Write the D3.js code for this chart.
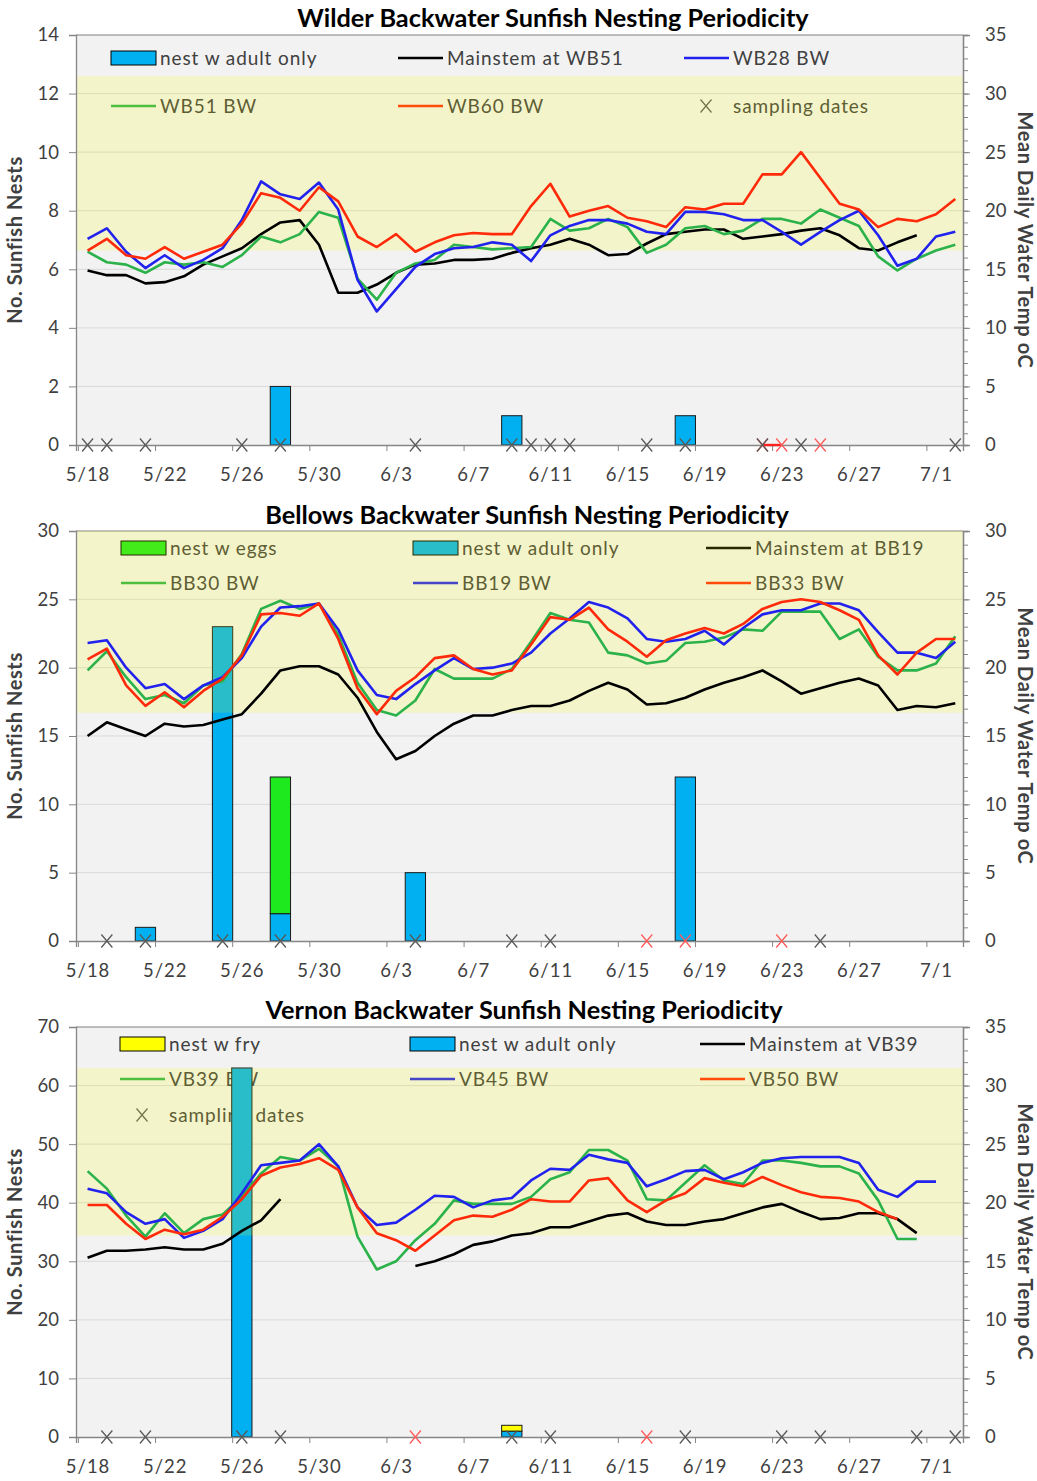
<!DOCTYPE html>
<html>
<head>
<meta charset="utf-8">
<script src="https://cdn.jsdelivr.net/npm/d3@7"></script>
<style>
  body { margin: 0; background: #fff; }
  text { font-family: Lato, "Open Sans", sans-serif; }
</style>
</head>
<body>
<script>
// categories: one per day, 5/18 .. 7/2
const dates = ["5/18","5/19","5/20","5/21","5/22","5/23","5/24","5/25","5/26","5/27","5/28","5/29","5/30","5/31",
  "6/1","6/2","6/3","6/4","6/5","6/6","6/7","6/8","6/9","6/10","6/11","6/12","6/13","6/14","6/15","6/16","6/17",
  "6/18","6/19","6/20","6/21","6/22","6/23","6/24","6/25","6/26","6/27","6/28","6/29","6/30","7/1","7/2"];
const tickLabels = ["5/18","5/22","5/26","5/30","6/3","6/7","6/11","6/15","6/19","6/23","6/27","7/1"];

// ---- Wilder (temps in oC) ----
const wilderMainstem = [14.9,14.5,14.5,13.8,13.9,14.4,15.4,16.1,16.8,18.0,19.0,19.2,17.1,13.0,13.0,13.7,14.7,15.4,15.5,15.8,15.8,15.9,16.4,16.8,17.1,17.6,17.1,16.2,16.3,17.2,18.0,18.2,18.4,18.4,17.6,17.8,18.0,18.3,18.5,17.9,16.8,16.6,17.3,17.9,null,null];
const wilderWB28 = [17.6,18.5,16.5,15.1,16.2,15.1,15.8,16.8,19.2,22.5,21.4,21.0,22.4,20.1,14.1,11.4,13.3,15.2,16.3,16.8,16.9,17.3,17.1,15.7,17.9,18.7,19.2,19.2,18.9,18.2,18.0,19.9,19.9,19.7,19.2,19.2,18.2,17.1,18.2,19.2,20.0,17.9,15.3,15.9,17.8,18.2];
const wilderWB51 = [16.5,15.6,15.4,14.7,15.6,15.4,15.6,15.2,16.2,17.8,17.3,18.0,19.9,19.4,14.2,12.4,14.7,15.5,15.8,17.1,16.9,16.7,16.8,16.9,19.3,18.3,18.5,19.3,18.6,16.4,17.1,18.5,18.7,18.0,18.3,19.3,19.3,18.9,20.1,19.4,18.7,16.1,14.9,15.9,16.6,17.1];
const wilderWB60 = [16.6,17.6,16.2,15.9,16.9,15.9,16.5,17.1,18.9,21.5,21.1,20.0,22.0,20.8,17.8,16.9,18.0,16.5,17.3,17.9,18.1,18.0,18.0,20.4,22.3,19.5,20.0,20.4,19.4,19.1,18.6,20.3,20.1,20.6,20.6,23.1,23.1,25.0,22.8,20.6,20.1,18.6,19.3,19.1,19.7,21.0];
const wilderAdult = [["5/28",2],["6/9",1],["6/18",1]];
const wilderSampling = ["5/18","5/19","5/21","5/26","5/28","6/4","6/9","6/10","6/11","6/12","6/16","6/18","6/22","6/24","7/2"];
const wilderSamplingRed = ["6/22","6/23","6/25"];
const wilderBand = [16.6, 31.5];

// ---- Bellows ----
const bellowsMainstem = [15.0,16.0,15.5,15.0,15.9,15.7,15.8,16.2,16.6,18.1,19.8,20.1,20.1,19.5,17.8,15.3,13.3,13.9,15.0,15.9,16.5,16.5,16.9,17.2,17.2,17.6,18.3,18.9,18.4,17.3,17.4,17.8,18.4,18.9,19.3,19.8,19.0,18.1,18.5,18.9,19.2,18.7,16.9,17.2,17.1,17.4];
const bellowsBB30 = [19.8,21.2,19.3,17.7,18.0,17.4,18.7,19.0,21.0,24.3,24.9,24.3,24.7,22.4,18.9,16.9,16.5,17.6,19.9,19.2,19.2,19.2,19.9,21.9,24.0,23.5,23.3,21.1,20.9,20.3,20.5,21.8,21.9,22.2,22.8,22.7,24.1,24.1,24.1,22.1,22.8,20.8,19.8,19.8,20.3,22.3];
const bellowsBB19 = [21.8,22.0,20.0,18.5,18.8,17.7,18.7,19.3,20.7,23.0,24.4,24.5,24.7,22.8,19.8,18.0,17.7,18.8,19.8,20.7,19.9,20.0,20.3,21.1,22.5,23.6,24.8,24.4,23.6,22.1,21.9,22.1,22.7,21.7,22.9,23.9,24.2,24.2,24.7,24.7,24.2,22.6,21.1,21.1,20.7,21.9];
const bellowsBB33 = [20.6,21.4,18.7,17.2,18.2,17.1,18.3,19.2,20.9,23.9,24.0,23.8,24.7,22.1,18.5,16.6,18.3,19.3,20.7,20.9,19.9,19.5,19.8,21.7,23.7,23.5,24.4,22.8,21.9,20.8,22.0,22.5,22.9,22.5,23.2,24.3,24.8,25.0,24.8,24.2,23.5,20.9,19.5,21.1,22.1,22.1];
const bellowsAdult = [["5/21",1],["5/25",23],["5/28",2],["6/4",5],["6/18",12]];
const bellowsEggs = [["5/28",10]];
const bellowsSampling = ["5/19","5/21","5/25","5/28","6/4","6/9","6/11","6/25"];
const bellowsSamplingRed = ["6/16","6/18","6/23"];
const bellowsBand = [16.7, 31];

// ---- Vernon ----
const vernonMainstem = [15.3,15.9,15.9,16.0,16.2,16.0,16.0,16.5,17.6,18.5,20.3,null,null,null,null,null,null,14.6,15.0,15.6,16.4,16.7,17.2,17.4,17.9,17.9,18.4,18.9,19.1,18.4,18.1,18.1,18.4,18.6,19.1,19.6,19.9,19.2,18.6,18.7,19.1,19.1,18.6,17.4,null,null];
const vernonVB39 = [22.7,21.2,18.9,17.1,19.1,17.4,18.6,19.0,20.5,22.5,23.9,23.6,24.6,23.1,17.1,14.3,15.0,16.8,18.2,20.2,19.9,19.9,19.9,20.5,22.0,22.6,24.5,24.5,23.6,20.3,20.2,21.7,23.2,21.9,21.6,23.6,23.6,23.4,23.1,23.1,22.5,20.2,16.9,16.9,null,null];
const vernonVB45 = [21.2,20.8,19.2,18.2,18.6,17.0,17.6,18.6,20.8,23.2,23.4,23.6,25.0,23.1,19.6,18.1,18.3,19.4,20.6,20.5,19.6,20.2,20.4,21.9,22.9,22.8,24.1,23.7,23.4,21.4,22.0,22.7,22.8,22.0,22.6,23.4,23.8,23.9,23.9,23.9,23.4,21.1,20.5,21.8,21.8,null];
const vernonVB50 = [19.8,19.8,18.2,16.9,17.7,17.3,17.7,18.8,20.3,22.3,23.0,23.3,23.8,22.8,19.6,17.4,16.8,15.9,17.2,18.5,18.9,18.8,19.4,20.3,20.1,20.1,21.9,22.1,20.2,19.2,20.2,20.8,22.1,21.7,21.4,22.2,21.5,20.9,20.5,20.4,20.1,19.2,18.6,null,null,null];
const vernonAdult = [["5/26",63],["6/9",1]];
const vernonFry = [["6/9",1]];
const vernonSampling = ["5/19","5/21","5/26","5/28","6/9","6/11","6/18","6/23","6/25","6/30","7/2"];
const vernonSamplingRed = ["6/4","6/16"];
const vernonBand = [17.2, 31.5];

const W = 1037, H = 1481;
const BLUE_BAR = "#00b0f0", EGG = "#1ee81e", FRY = "#ffff00";
const C_BLACK = "#000000", C_BLUE = "#2222ee", C_GREEN = "#2bb24a", C_RED = "#ff2a0a";

const svg = d3.select("body").append("svg").attr("width", W).attr("height", H);

const x = d3.scaleLinear().domain([-0.6, 45.4]).range([76, 963]);
const dayW = x(1) - x(0);
const idx = d => dates.indexOf(d);

const panels = [
  {
    title: "Wilder Backwater Sunfish Nesting Periodicity", titleX: 553, titleY: 18,
    top: 35, bottom: 445, leftMax: 14, leftStep: 2, rightMax: 35, rightStep: 5,
    band: wilderBand,
    bars: [{ data: wilderAdult, color: BLUE_BAR }],
    lines: [[wilderMainstem, C_BLACK], [wilderWB51, C_GREEN], [wilderWB28, C_BLUE], [wilderWB60, C_RED]],
    sampling: wilderSampling, samplingRed: wilderSamplingRed,
    legendCols: [111, 398, 684], legendRows: [58, 106],
    legend: [
      { t: "bar", c: BLUE_BAR, l: "nest w adult only" }, { t: "line", c: C_BLACK, l: "Mainstem at WB51" }, { t: "line", c: C_BLUE, l: "WB28 BW" },
      { t: "line", c: C_GREEN, l: "WB51 BW" }, { t: "line", c: C_RED, l: "WB60 BW" }, { t: "x", l: "sampling dates" }
    ]
  },
  {
    title: "Bellows Backwater Sunfish Nesting Periodicity", titleX: 527, titleY: 515,
    top: 531, bottom: 941, leftMax: 30, leftStep: 5, rightMax: 30, rightStep: 5,
    band: bellowsBand,
    bars: [{ data: bellowsAdult, color: BLUE_BAR }, { data: bellowsEggs, color: EGG }],
    lines: [[bellowsMainstem, C_BLACK], [bellowsBB30, C_GREEN], [bellowsBB19, C_BLUE], [bellowsBB33, C_RED]],
    sampling: bellowsSampling, samplingRed: bellowsSamplingRed,
    legendCols: [121, 413, 706], legendRows: [548, 583],
    legend: [
      { t: "bar", c: EGG, l: "nest w eggs" }, { t: "bar", c: BLUE_BAR, l: "nest w adult only" }, { t: "line", c: C_BLACK, l: "Mainstem at BB19" },
      { t: "line", c: C_GREEN, l: "BB30 BW" }, { t: "line", c: C_BLUE, l: "BB19 BW" }, { t: "line", c: C_RED, l: "BB33 BW" }
    ]
  },
  {
    title: "Vernon Backwater Sunfish Nesting Periodicity", titleX: 524, titleY: 1010,
    top: 1027, bottom: 1437, leftMax: 70, leftStep: 10, rightMax: 35, rightStep: 5,
    band: vernonBand,
    bars: [{ data: vernonAdult, color: BLUE_BAR }, { data: vernonFry, color: FRY }],
    lines: [[vernonMainstem, C_BLACK], [vernonVB39, C_GREEN], [vernonVB45, C_BLUE], [vernonVB50, C_RED]],
    sampling: vernonSampling, samplingRed: vernonSamplingRed,
    legendCols: [120, 410, 700], legendRows: [1044, 1079, 1115],
    legend: [
      { t: "bar", c: FRY, l: "nest w fry" }, { t: "bar", c: BLUE_BAR, l: "nest w adult only" }, { t: "line", c: C_BLACK, l: "Mainstem at VB39" },
      { t: "line", c: C_GREEN, l: "VB39 BW" }, { t: "line", c: C_BLUE, l: "VB45 BW" }, { t: "line", c: C_RED, l: "VB50 BW" },
      { t: "x", l: "sampling dates" }
    ]
  }
];

const xPath = "M-5.5,-6.5L5.5,6.5M-5.5,6.5L5.5,-6.5";

panels.forEach(p => {
  const g = svg.append("g");
  const yL = d3.scaleLinear().domain([0, p.leftMax]).range([p.bottom, p.top]);
  const yR = d3.scaleLinear().domain([0, p.rightMax]).range([p.bottom, p.top]);
  const x0 = x.range()[0], x1 = x.range()[1];

  // plot background
  g.append("rect").attr("x", x0).attr("y", p.top).attr("width", x1 - x0).attr("height", p.bottom - p.top)
    .attr("fill", "#f2f2f2");

  // gridlines
  g.selectAll(".grid").data(d3.range(p.leftStep, p.leftMax + 0.01, p.leftStep)).join("line")
    .attr("x1", x0).attr("x2", x1).attr("y1", d => yL(d)).attr("y2", d => yL(d))
    .attr("stroke", d => d === p.leftMax ? "#7f7f7f" : "#d9d9d9").attr("stroke-width", 1);

  // legend (sits under the bars and the band)
  const lg = g.append("g");
  p.legend.forEach((it, i) => {
    const cx = p.legendCols[i % 3], cy = p.legendRows[Math.floor(i / 3)];
    if (it.t === "bar") {
      lg.append("rect").attr("x", cx).attr("y", cy - 7).attr("width", 45).attr("height", 14)
        .attr("fill", it.c).attr("stroke", "#000").attr("stroke-width", 1);
    } else if (it.t === "line") {
      lg.append("line").attr("x1", cx).attr("x2", cx + 45).attr("y1", cy).attr("y2", cy)
        .attr("stroke", it.c).attr("stroke-width", 2.5);
    } else {
      lg.append("path").attr("d", xPath).attr("transform", `translate(${cx + 22},${cy})`)
        .attr("stroke", "#595959").attr("stroke-width", 1.2).attr("fill", "none");
    }
    lg.append("text").attr("x", cx + 49).attr("y", cy).attr("dy", "0.35em")
      .attr("font-size", 19).attr("letter-spacing", 0.9).attr("fill", "#404040").text(it.l);
  });

  // stacked bars
  const table = dates.map(d => {
    const row = { date: d };
    p.bars.forEach((b, k) => { const f = b.data.find(e => e[0] === d); row["s" + k] = f ? f[1] : 0; });
    return row;
  });
  const stack = d3.stack().keys(p.bars.map((b, k) => "s" + k))(table);
  stack.forEach((layer, k) => {
    g.append("g").selectAll("rect").data(layer.filter(s => s[1] > s[0])).join("rect")
      .attr("x", s => x(idx(s.data.date)) - dayW / 2 - 0.5)
      .attr("width", dayW + 1)
      .attr("y", s => yL(s[1]))
      .attr("height", s => yL(s[0]) - yL(s[1]))
      .attr("fill", p.bars[k].color).attr("stroke", "#1a1a1a").attr("stroke-width", 1);
  });

  // preferred temperature band, semi-transparent over bars and legend
  g.append("rect").attr("x", x0).attr("width", x1 - x0)
    .attr("y", Math.max(p.top, yR(p.band[1])))
    .attr("height", yR(p.band[0]) - Math.max(p.top, yR(p.band[1])))
    .attr("fill", "#ffff00").attr("fill-opacity", 0.16);

  // axes
  const axL = g.append("g").attr("transform", `translate(${x0},0)`)
    .call(d3.axisLeft(yL).tickValues(d3.range(0, p.leftMax + 0.01, p.leftStep)).tickSize(7).tickPadding(10));
  const axRm = g.append("g").attr("transform", `translate(${x1},0)`)
    .call(d3.axisRight(yR).tickValues(d3.range(0, p.rightMax + 0.01, 1)).tickSize(5).tickFormat(""));
  const axR = g.append("g").attr("transform", `translate(${x1},0)`)
    .call(d3.axisRight(yR).tickValues(d3.range(0, p.rightMax + 0.01, p.rightStep)).tickSize(7).tickPadding(15));
  const axB = g.append("g").attr("transform", `translate(0,${p.bottom})`)
    .call(d3.axisBottom(x).tickValues(d3.range(0, 46, 4).map(v => v - 0.5)).tickSize(6).tickFormat(""));
  const axBl = g.append("g").attr("transform", `translate(0,${p.bottom})`)
    .call(d3.axisBottom(x).tickValues(tickLabels.map(idx)).tickSize(0).tickPadding(23).tickFormat(i => dates[i]));
  [axL, axRm, axR, axB, axBl].forEach(a => {
    a.select(".domain").attr("stroke", "#868686").attr("stroke-width", 1.3);
    a.selectAll(".tick line").attr("stroke", "#868686");
    a.selectAll("text").attr("font-size", 18.5).attr("fill", "#404040").attr("font-family", "Lato, sans-serif");
  });
  axBl.select(".domain").remove();
  axBl.selectAll("text").attr("letter-spacing", 1);
  axR.selectAll("text").attr("text-anchor", "start");

  // temperature lines
  p.lines.forEach(([vals, col]) => {
    g.append("path").datum(vals)
      .attr("d", d3.line().defined(v => v != null).x((v, i) => x(i)).y(v => yR(v)))
      .attr("fill", "none").attr("stroke", col).attr("stroke-width", 2.6).attr("stroke-linejoin", "round");
  });

  // sampling dates along the zero line
  const redVals = dates.map(d => p.samplingRed.includes(d) ? 0 : null);
  g.append("path").datum(redVals)
    .attr("d", d3.line().defined(v => v != null).x((v, i) => x(i)).y(v => yL(v)))
    .attr("fill", "none").attr("stroke", "#ff2020").attr("stroke-width", 2.4);
  g.selectAll(".sred").data(p.samplingRed).join("path")
    .attr("d", xPath).attr("transform", d => `translate(${x(idx(d))},${p.bottom})`)
    .attr("stroke", "#ff5a5a").attr("stroke-width", 1.3).attr("fill", "none");
  g.selectAll(".sblk").data(p.sampling).join("path")
    .attr("d", xPath).attr("transform", d => `translate(${x(idx(d))},${p.bottom})`)
    .attr("stroke", "#595959").attr("stroke-width", 1.3).attr("fill", "none");

  // titles
  g.append("text").attr("x", p.titleX).attr("y", p.titleY).attr("dy", "0.35em").attr("text-anchor", "middle")
    .attr("font-size", 25.3).attr("font-weight", "bold").attr("fill", "#000").text(p.title);
  const mid = (p.top + p.bottom) / 2;
  g.append("text").attr("transform", `translate(15,${mid}) rotate(-90)`).attr("dy", "0.35em")
    .attr("text-anchor", "middle").attr("font-size", 20).attr("letter-spacing", 0.6).attr("font-weight", "bold").attr("fill", "#404040")
    .text("No. Sunfish Nests");
  g.append("text").attr("transform", `translate(1025,${mid}) rotate(90)`).attr("dy", "0.35em")
    .attr("text-anchor", "middle").attr("font-size", 20).attr("letter-spacing", 0.6).attr("font-weight", "bold").attr("fill", "#404040")
    .text("Mean Daily Water Temp oC");
});
</script>
</body>
</html>
